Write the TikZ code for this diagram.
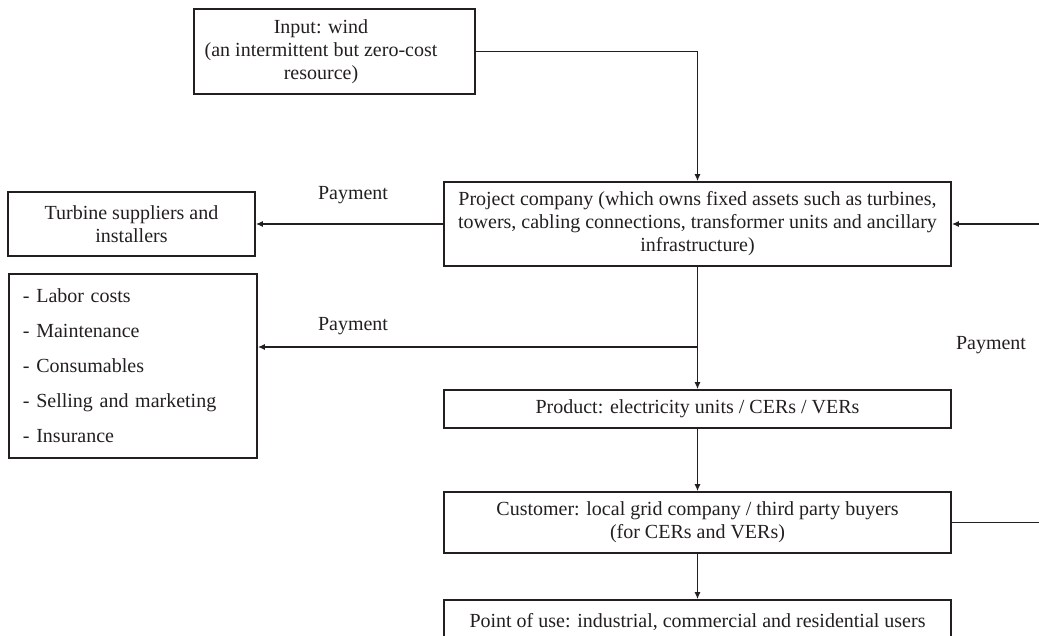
\documentclass[tikz,border=0pt]{standalone}
\usepackage{fontspec}
\setmainfont{Liberation Serif}
\usetikzlibrary{arrows.meta}
\definecolor{ink}{RGB}{35,31,32}
\begin{document}
\begin{tikzpicture}[x=1pt,y=-1pt,
  box/.style={draw=ink, line width=1.6pt, inner sep=0pt, align=center,
    font=\fontsize{20}{23}\selectfont, text=ink},
  lbl/.style={font=\fontsize{20}{23}\selectfont, text=ink, inner sep=0pt},
  arr/.style={draw=ink, line width=1.5pt, -{Latex[length=7pt,width=6pt]}},
  ln/.style={draw=ink, line width=1.5pt}]
\useasboundingbox (0,0) rectangle (1039,635);
\clip (0,0) rectangle (1039,635);

\node[box, minimum width=281pt, minimum height=85pt] (input) at (334.5,51.5) {};
\node[lbl, align=center] (inputtxt) at (321,52)
  {Input: wind\\(an intermittent but zero-cost\\resource)};
\node[box, minimum width=507pt, minimum height=84pt] (proj) at (697.5,224)
  {Project company (which owns fixed assets such as turbines,\\towers, cabling connections, transformer units and ancillary\\infrastructure)};
\node[box, minimum width=247pt, minimum height=64pt] (turb) at (131.5,224)
  {Turbine suppliers and\\installers};
\node[box, align=left, text width=220pt, inner xsep=14pt, minimum width=248pt, minimum height=184pt] (costs) at (133,366)
  {- Labor costs\\[12pt]- Maintenance\\[12pt]- Consumables\\[12pt]- Selling and marketing\\[12pt]- Insurance};
\node[box, minimum width=507pt, minimum height=38pt] (prod) at (697.5,409)
  {Product: electricity units / CERs / VERs};
\node[box, minimum width=507pt, minimum height=61pt] (cust) at (697.5,522.5)
  {Customer: local grid company / third party buyers\\(for CERs and VERs)};
\node[box, minimum width=507pt, minimum height=44pt] (use) at (697.5,622)
  {Point of use: industrial, commercial and residential users};

\node[lbl] (pay1) at (353,195) {Payment};
\node[lbl] (pay2) at (353,326) {Payment};
\node[lbl] (pay3) at (991,345) {Payment};

\coordinate (j) at (697.5,347);
\coordinate (r) at (1046,522.5);

\draw[arr] (input.east) -| (proj.north);
\draw[arr] (proj.west) -- (turb.east);
\draw[arr] (proj.south) -- (prod.north);
\draw[arr] (j) -- (costs.east |- j);
\draw[arr] (prod.south) -- (cust.north);
\draw[arr] (cust.south) -- (use.north);
\draw[arr] (cust.east) -- (r) |- (proj.east);
\end{tikzpicture}
\end{document}
